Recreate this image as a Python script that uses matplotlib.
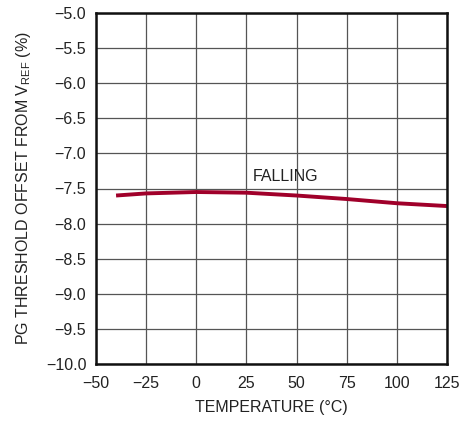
import matplotlib
matplotlib.use("Agg")
import matplotlib.pyplot as plt

# PG threshold (falling) vs temperature
temp_c = [-40, -25, 0, 25, 50, 75, 100, 125]
offset_pct = [-7.60, -7.57, -7.55, -7.56, -7.60, -7.65, -7.71, -7.75]

x_ticks = [-50, -25, 0, 25, 50, 75, 100, 125]
y_ticks = [-10.0, -9.5, -9.0, -8.5, -8.0, -7.5, -7.0, -6.5, -6.0, -5.5, -5.0]

family = "Liberation Sans"
plt.rcParams["font.family"] = [family, "DejaVu Sans"]
plt.rcParams["mathtext.fontset"] = "custom"
plt.rcParams["mathtext.rm"] = family

fig = plt.figure(figsize=(4.75, 4.21), dpi=100)
ax = fig.add_axes([96 / 475, 1 - 364 / 421, 351 / 475, 351 / 421])

ax.plot(temp_c, offset_pct, color="#a0002a", lw=2.8, solid_capstyle="butt")
ax.text(28, -7.33, "FALLING", fontsize=11.5, va="center", ha="left", color="#222222")

ax.set_xlim(-50, 125)
ax.set_ylim(-10, -5)
ax.set_xticks(x_ticks)
ax.set_yticks(y_ticks)
ax.set_xticklabels([f"{v}".replace("-", "\u2212") for v in x_ticks])
ax.set_yticklabels([f"{v:.1f}".replace("-", "\u2212") for v in y_ticks])
ax.tick_params(length=0, labelsize=11.5, colors="#222222")
ax.tick_params(axis="y", pad=7)
ax.tick_params(axis="x", pad=9)
ax.grid(True, color="#555555", lw=0.9)
ax.set_axisbelow(True)
for s in ax.spines.values():
    s.set_linewidth(1.8)
    s.set_color("#111111")

ax.set_xlabel("TEMPERATURE (°C)", fontsize=11.5, color="#222222", labelpad=6)
ax.set_ylabel(r"PG THRESHOLD OFFSET FROM V$_{\mathrm{REF}}$ (%)", fontsize=11.5,
              color="#222222", labelpad=9)

fig.savefig("out.png", dpi=100)
